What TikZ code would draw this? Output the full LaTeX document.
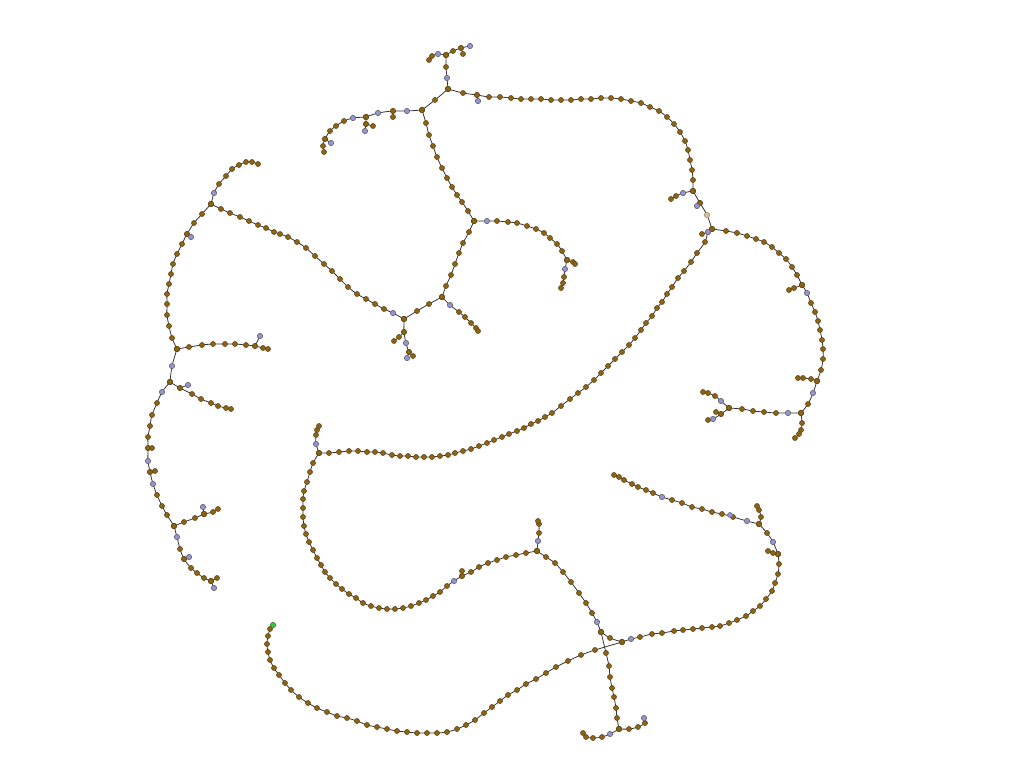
\documentclass[tikz,border=0pt]{standalone}
\usetikzlibrary{backgrounds}
\definecolor{brn}{RGB}{140,100,22}
\definecolor{brndk}{RGB}{95,70,20}
\definecolor{lav}{RGB}{150,150,205}
\definecolor{grn}{RGB}{60,200,70}
\tikzstyle{vtx} = [circle, fill=brn, draw=brndk, line width=0.3pt, inner sep=0pt, minimum size=2.9pt]
\tikzstyle{lavvtx} = [vtx, fill=lav, draw=lav!70!black]
\tikzstyle{link} = [draw=black!80, line width=0.45pt]
\tikzstyle{chain} = [link, smooth, mark=*, mark size=1.45pt, mark options={fill=brn, draw=brndk, line width=0.3pt}]

\begin{document}
\begin{tikzpicture}[x=0.02cm, y=-0.02cm]
	\useasboundingbox (0,0) rectangle (1024,768);

	% branch points
	\node[vtx] (A) at (446,55) {};
	\node[vtx] (B) at (448,89) {};
	\node[vtx] (C) at (422,110) {};
	\node[vtx] (C2) at (366,117) {};
	\node[vtx] (D) at (474,221) {};
	\node[vtx] (X) at (567,260) {};
	\node[vtx] (E) at (442,297) {};
	\node[vtx] (F) at (404,319) {};
	\node[vtx] (G) at (211,204) {};
	\node[vtx] (H) at (177,349) {};
	\node[vtx] (I) at (170,382) {};
	\node[vtx] (J) at (174,526) {};
	\node[vtx] (Y) at (204,514) {};
	\node[vtx] (Z) at (211,581) {};
	\node[vtx] (L) at (693,191) {};
	\node[vtx] (K) at (712,229) {};
	\node[vtx] (V) at (802,285) {};
	\node[vtx] (U) at (817,381) {};
	\node[vtx] (M) at (801,413) {};
	\node[vtx] (N) at (729,408) {};
	\node[vtx] (O) at (319,453) {};
	\node[vtx] (P) at (537,551) {};
	\node[vtx] (Q) at (601,632) {};
	\node[vtx] (R) at (622,642) {};
	\node[vtx] (S) at (619,729) {};
	\node[vtx] (W) at (778,554) {};
	\node[vtx] (T) at (759,524) {};
	\node[vtx, fill=grn, draw=grn!70!black] (root) at (273,625) {};

	% lavender vertices
	\foreach \p [count=\i] in {(447,78),(478,101),(438,54),(470,46),(407,111),(378,113),(353,118),
		(365,131),(331,143),(487,221),(565,269),(450,305),(393,313),(406,343),(407,358),
		(214,193),(191,237),(260,336),(172,366),(188,385),(162,392),(148,461),(153,484),
		(203,507),(177,537),(189,557),(214,588),(683,193),(697,206),(708,232),(807,293),
		(813,393),(788,413),(721,401),(713,419),(316,444),(454,581),(538,541),(597,622),
		(610,734),(644,718),(631,639),(773,542),(747,521),(730,515),(662,497)}
		\node[lavvtx] (lv\i) at \p {};
	\node[vtx, fill=brn!40, draw=brn!60] (pale) at (707,215) {};

	\begin{scope}[on background layer]
	% top
	\draw[chain] plot coordinates {(A.center) (446,67) (447,78) (B.center)};
	\draw[chain] plot coordinates {(A.center) (438,54) (432,56) (429,60)};
	\draw[chain] plot coordinates {(A.center) (453,51) (461,48) (470,46)};
	\draw[chain] plot coordinates {(461,48) (463,54)};
	\draw[chain] plot coordinates {(B.center) (435,100) (C.center)};
	\draw[chain] plot coordinates {(B.center) (463,93) (477,95) (489,97) (500,97) (511,98) (521,99)
		(531,99) (541,99) (551,100) (561,100) (571,100) (581,99) (591,99) (601,98) (611,98) (621,99)
		(631,101) (641,103) (650,107) (659,111) (667,117) (674,124) (680,132) (685,141) (688,150)
		(690,160) (692,170) (693,180) (L.center)};
	\draw[chain] plot coordinates {(477,95) (478,101)};
	\draw[chain] plot coordinates {(C.center) (407,111) (393,111) (378,113) (C2.center)};
	\draw[chain] plot coordinates {(C2.center) (353,118) (344,121) (336,126) (330,131) (325,139)
		(323,146) (324,152)};
	\draw[chain] plot coordinates {(C2.center) (366,124) (365,131)};
	\draw[chain] plot coordinates {(366,124) (373,126)};
	\draw[chain] plot coordinates {(393,111) (393,117)};
	\draw[chain] plot coordinates {(325,139) (331,143)};
	\draw[chain] plot coordinates {(C.center) (426,123) (429,135) (433,146) (437,157) (442,168)
		(447,178) (452,187) (457,195) (462,202) (468,211) (D.center)};

	% middle
	\draw[chain] plot coordinates {(D.center) (487,221) (497,221) (508,222) (517,223) (527,226)
		(536,229) (544,233) (550,238) (557,244) (562,251) (X.center)};
	\draw[chain] plot coordinates {(X.center) (565,269) (564,277) (563,283) (561,288)};
	\draw[chain] plot coordinates {(X.center) (573,262) (575,264)};
	\draw[chain] plot coordinates {(D.center) (469,232) (463,243) (459,253) (455,264) (451,275)
		(446,286) (E.center)};
	\draw[chain] plot coordinates {(E.center) (450,305) (459,312) (465,317) (471,323) (476,328) (478,331)};
	\draw[chain] plot coordinates {(E.center) (429,304) (417,311) (F.center)};
	\draw[chain] plot coordinates {(F.center) (404,332) (406,343) (409,352) (413,356)};
	\draw[chain] plot coordinates {(409,352) (407,358)};
	\draw[chain] plot coordinates {(404,332) (399,337) (394,341)};
	\draw[chain] plot coordinates {(F.center) (393,313) (384,309) (375,304) (366,299) (357,294)
		(348,287) (340,279) (332,271) (324,264) (315,256) (306,248) (297,242) (288,237) (280,234)
		(274,232) (266,228) (258,225) (249,221) (240,217) (230,213) (221,209) (G.center)};

	% left
	\draw[chain] plot coordinates {(G.center) (214,193) (219,184) (226,176) (232,169) (239,165)
		(246,162) (252,162) (258,164)};
	\draw[chain] plot coordinates {(G.center) (202,214) (194,223) (187,234) (182,244) (177,254)
		(173,264) (171,274) (169,284) (167,294) (167,304) (167,315) (169,326) (172,338) (H.center)};
	\draw[chain] plot coordinates {(187,234) (191,237)};
	\draw[chain] plot coordinates {(H.center) (189,347) (202,345) (213,344) (225,344) (235,344)
		(246,345) (255,346) (263,348) (268,349)};
	\draw[chain] plot coordinates {(255,346) (260,336)};
	\draw[chain] plot coordinates {(H.center) (172,366) (I.center)};
	\draw[chain] plot coordinates {(I.center) (180,388) (192,394) (201,399) (211,403) (218,406)
		(226,408) (231,409)};
	\draw[chain] plot coordinates {(180,388) (188,385)};
	\draw[chain] plot coordinates {(I.center) (162,392) (157,403) (152,415) (150,426) (148,437)
		(148,448) (148,461) (150,472) (153,484) (157,495) (162,506) (167,515) (J.center)};
	\draw[chain] plot coordinates {(148,448) (152,448)};
	\draw[chain] plot coordinates {(150,472) (155,471)};
	\draw[chain] plot coordinates {(J.center) (184,522) (195,518) (Y.center)};
	\draw[chain] plot coordinates {(Y.center) (203,507)};
	\draw[chain] plot coordinates {(Y.center) (213,512) (218,509)};
	\draw[chain] plot coordinates {(J.center) (177,537) (180,549) (184,559) (191,568) (197,573)
		(204,578) (Z.center)};
	\draw[chain] plot coordinates {(184,559) (189,557)};
	\draw[chain] plot coordinates {(Z.center) (217,578)};
	\draw[chain] plot coordinates {(Z.center) (214,588)};

	% right
	\draw[chain] plot coordinates {(L.center) (683,193) (676,196) (671,199)};
	\draw[chain] plot coordinates {(L.center) (700,203) (707,215) (K.center)};
	\draw[chain] plot coordinates {(700,203) (697,206)};
	\draw[chain] plot coordinates {(K.center) (726,231) (737,233) (747,236) (756,239) (764,242)
		(772,247) (779,253) (786,259) (792,267) (797,275) (V.center)};
	\draw[chain] plot coordinates {(V.center) (807,293) (811,303) (815,312) (818,321) (820,330)
		(822,340) (823,349) (823,359) (821,370) (U.center)};
	\draw[chain] plot coordinates {(V.center) (794,288) (789,290)};
	\draw[chain] plot coordinates {(U.center) (811,379) (803,378) (798,378)};
	\draw[chain] plot coordinates {(U.center) (813,393) (808,404) (M.center)};
	\draw[chain] plot coordinates {(M.center) (802,423) (801,430) (799,434) (795,438)};
	\draw[chain] plot coordinates {(M.center) (788,413) (776,413) (764,412) (753,411) (742,409) (N.center)};
	\draw[chain] plot coordinates {(N.center) (721,401) (715,396) (708,393) (703,392)};
	\draw[chain] plot coordinates {(N.center) (721,414) (713,419) (708,420)};
	\draw[chain] plot coordinates {(721,414) (716,412)};
	\draw[chain] plot coordinates {(K.center) (708,232) (705,242) (697,253) (691,262) (684,271)
		(678,278) (672,287) (667,294) (662,302) (657,308) (652,316) (646,323) (641,330) (635,338)
		(629,345) (622,352) (615,359) (608,366) (601,373) (594,380) (586,387) (578,393) (570,399)
		(561,406) (552,413) (545,417) (538,421) (531,424) (524,428) (517,431) (509,434) (502,437)
		(494,440) (487,443) (479,446) (471,449) (463,451) (455,453) (448,455) (440,456) (432,457)
		(424,457) (416,457) (408,456) (400,456) (392,455) (383,453) (375,452) (367,452) (358,451)
		(349,451) (339,452) (329,453) (O.center)};
	\draw[chain] plot coordinates {(708,232) (702,234)};

	% bottom
	\draw[chain] plot coordinates {(O.center) (316,444) (316,435) (317,430) (319,426)};
	\draw[chain] plot coordinates {(O.center) (313,463) (310,472) (307,482) (304,491) (303,499)
		(303,508) (303,517) (304,526) (306,534) (309,542) (313,550) (317,558) (321,565) (325,572)
		(330,578) (336,584) (342,589) (349,594) (356,598) (363,603) (371,606) (379,608) (387,609)
		(395,609) (403,608) (411,606) (419,603) (426,600) (433,596) (440,592) (447,586) (454,581)
		(462,576) (471,572) (479,567) (488,563) (497,560) (506,557) (516,555) (526,553) (P.center)};
	\draw[chain] plot coordinates {(462,576) (462,571)};
	\draw[chain] plot coordinates {(P.center) (538,541) (539,533) (539,524) (538,521)};
	\draw[chain] plot coordinates {(P.center) (546,557) (555,563) (563,572) (571,582) (579,593)
		(586,603) (592,613) (597,622) (Q.center)};
	\draw[chain] plot coordinates {(Q.center) (610,638) (R.center)};
	\draw[chain] plot coordinates {(Q.center) (606,653) (609,666) (610,677) (612,688) (614,697)
		(616,708) (617,718) (S.center)};
	\draw[chain] plot coordinates {(S.center) (610,734) (602,737) (593,738) (586,737) (583,733)};
	\draw[chain] plot coordinates {(S.center) (629,729) (638,727) (645,723) (644,718)};
	\draw[chain] plot coordinates {(R.center) (631,639) (640,637) (652,634) (662,633) (674,631)
		(683,630) (693,629) (702,628) (712,627) (720,626) (729,623) (737,620) (746,616) (753,611)
		(760,606) (766,599) (772,591) (775,583) (778,574) (779,564) (W.center)};
	\draw[chain] plot coordinates {(W.center) (773,542) (767,533) (T.center)};
	\draw[chain] plot coordinates {(W.center) (773,553) (768,551)};
	\draw[chain] plot coordinates {(T.center) (761,517) (759,510) (757,506)};
	\draw[chain] plot coordinates {(T.center) (747,521) (733,517) (722,514) (712,512) (702,509)
		(692,507) (682,503) (672,500) (662,497) (653,493) (646,490) (638,487) (632,484) (624,480)
		(619,477) (614,475)};
	\draw[chain] plot coordinates {(R.center) (595,650) (581,655) (568,661) (556,667) (546,673)
		(536,679) (526,684) (517,690) (508,695) (500,701) (492,707) (484,713) (475,720) (466,725)
		(457,729) (447,732) (437,733) (427,733) (417,733) (407,732) (397,731) (387,729) (377,727)
		(367,725) (357,721) (347,718) (337,716) (327,712) (317,708) (308,703) (299,697) (291,690)
		(285,683) (279,675) (274,668) (270,660) (268,652) (267,644) (268,636) (270,629) (root.center)};
	\end{scope}
\end{tikzpicture}
\end{document}
